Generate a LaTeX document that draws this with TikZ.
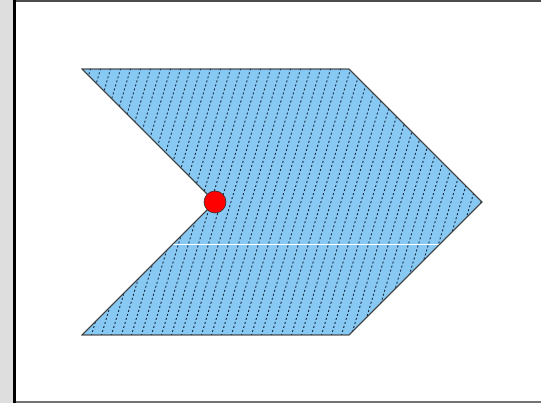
\documentclass[tikz,border=0pt]{standalone}
\definecolor{chevfill}{HTML}{88C9F4}
\definecolor{hatch}{HTML}{14283C}
\definecolor{sidegrey}{HTML}{DEDEDE}
\tikzset{
  chevron/.style={draw=black!75, line width=0.8pt, fill=chevfill},
  hatchline/.style={hatch, line width=0.9pt, dash pattern=on 2pt off 2.2pt},
  seam/.style={white, line width=0.8pt},
  dot/.style={circle, fill=red, draw=black!80, line width=0.6pt, minimum size=22pt, inner sep=0pt},
}
\begin{document}
\begin{tikzpicture}[x=1pt,y=-1pt]
\useasboundingbox (0,0) rectangle (541,403);
\fill[white] (0,0) rectangle (541,403);
\fill[sidegrey] (0,0) rectangle (13,403);
\draw[black!70, line width=2pt] (14,1.5) -- (541,1.5);
\draw[black!55, line width=2pt] (14,401.5) -- (541,401.5);
\draw[black, line width=2.5pt] (14.5,0) -- (14.5,403);
\coordinate (tl) at (82,69);
\coordinate (tr) at (349,69);
\coordinate (tip) at (482,202);
\coordinate (br) at (349,335);
\coordinate (bl) at (82,335);
\coordinate (notch) at (215,202);
\path[chevron] (tl) -- (tr) -- (tip) -- (br) -- (bl) -- (notch) -- cycle;
\begin{scope}
  \clip (tl) -- (tr) -- (tip) -- (br) -- (bl) -- (notch) -- cycle;
  \foreach \x in {0,10,...,520} {
    \draw[hatchline] (\x,340) -- (\x+82,64);
  }
  \draw[seam] (60,244) -- (500,244);
\end{scope}
\draw[black!75, line width=0.8pt] (tl) -- (tr) -- (tip) -- (br) -- (bl) -- (notch) -- cycle;
\node[dot] (d) at (notch) {};
\end{tikzpicture}
\end{document}
